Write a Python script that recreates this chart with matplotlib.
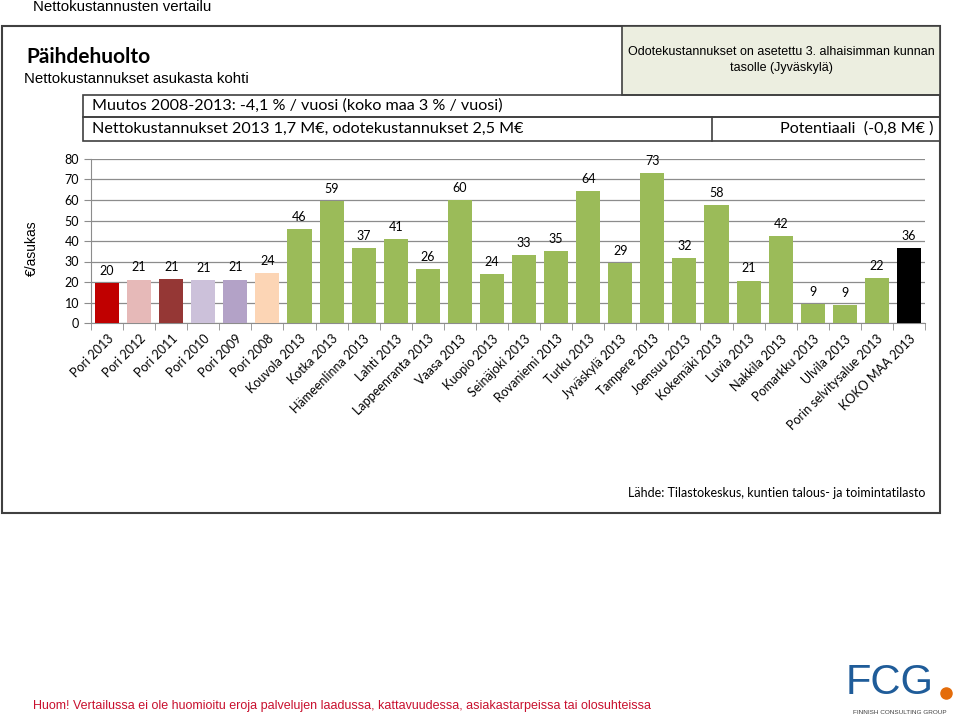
import matplotlib
matplotlib.use("Agg")
import matplotlib.pyplot as plt
from matplotlib.patches import Rectangle

categories = ["Pori 2013", "Pori 2012", "Pori 2011", "Pori 2010", "Pori 2009", "Pori 2008",
              "Kouvola 2013", "Kotka 2013", "Hämeenlinna 2013", "Lahti 2013",
              "Lappeenranta 2013", "Vaasa 2013", "Kuopio 2013", "Seinäjoki 2013",
              "Rovaniemi 2013", "Turku 2013", "Jyväskylä 2013", "Tampere 2013",
              "Joensuu 2013", "Kokemäki 2013", "Luvia 2013", "Nakkila 2013",
              "Pomarkku 2013", "Ulvila 2013", "Porin selvitysalue 2013", "KOKO MAA 2013"]
values = [19.6, 21.2, 21.4, 21.1, 21.2, 24.5, 46, 59.5, 36.7, 40.8, 26.3, 60,
          23.8, 33.3, 35, 64.3, 29.3, 73, 31.8, 57.7, 20.7, 42.2, 9.4, 8.9, 22, 36.4]
labels = ["20", "21", "21", "21", "21", "24", "46", "59", "37", "41", "26", "60",
          "24", "33", "35", "64", "29", "73", "32", "58", "21", "42", "9", "9", "22", "36"]
green = "#9BBB59"
colors = ["#C00000", "#E6B9B8", "#953735", "#CCC1DA", "#B3A2C7", "#FCD5B5"] + \
         [green] * 19 + ["#000000"]

CAL = ["Lato", "DejaVu Sans"]
ARI = ["Liberation Sans", "DejaVu Sans"]

fig = plt.figure(figsize=(9.6, 7.2), dpi=100)

# overlay in pixel coordinates for boxes and texts
ov = fig.add_axes([0, 0, 1, 1])
ov.set_xlim(0, 960)
ov.set_ylim(720, 0)
ov.axis("off")

def box(x0, y0, x1, y1, fc="none", lw=1.2):
    ov.add_patch(Rectangle((x0, y0), x1 - x0, y1 - y0, fc=fc, ec="#404040", lw=lw))

box(2, 26, 940, 513, lw=1.5)
box(622, 26, 940, 95, fc="#ECEEE0")
box(83, 95, 940, 117)
box(83, 117, 940, 141)
ov.plot([712, 712], [117, 141], color="#404040", lw=1.2)

ov.text(33, 7, "Nettokustannusten vertailu", fontsize=10.8, family=ARI, va="center")
ov.text(26, 57, "Päihdehuolto", fontsize=15, weight="bold", family=CAL, va="center")
ov.text(24, 79, "Nettokustannukset asukasta kohti", fontsize=10.8, family=ARI, va="center")
ov.text(781, 52, "Odotekustannukset on asetettu 3. alhaisimman kunnan", fontsize=9,
        family=ARI, ha="center", va="center")
ov.text(781, 68, "tasolle (Jyväskylä)", fontsize=9, family=ARI, ha="center", va="center")
ov.text(92, 106, "Muutos 2008-2013: -4,1 % / vuosi (koko maa 3 % / vuosi)", fontsize=11.6,
        family=CAL, va="center")
ov.text(92, 129, "Nettokustannukset 2013 1,7 M€, odotekustannukset 2,5 M€", fontsize=11.6,
        family=CAL, va="center")
ov.text(934, 129, "Potentiaali  (-0,8 M€ )", fontsize=11.6, family=CAL, ha="right",
        va="center")
ov.text(925, 493, "Lähde: Tilastokeskus, kuntien talous- ja toimintatilasto", fontsize=9,
        family=CAL, ha="right", va="center")
ov.text(33, 706, "Huom! Vertailussa ei ole huomioitu eroja palvelujen laadussa, kattavuudessa, "
        "asiakastarpeissa tai olosuhteissa", fontsize=9, family=ARI, color="#C8102E",
        va="center")
ov.text(32, 248, "€/asukas", fontsize=10, family=ARI, rotation=90, ha="center", va="center")

# FCG logo as text
ov.text(846, 683, "FCG", fontsize=30, family=ARI, color="#1F5C99", va="center")
ov.plot([946], [693], "o", color="#E46C0A", ms=8)
ov.text(900, 712, "FINNISH CONSULTING GROUP", fontsize=4.6, family=ARI, color="#404040",
        ha="center", va="center")

# chart
ax = fig.add_axes([91 / 960, 1 - 323 / 720, (925 - 91) / 960, (323 - 159) / 720])
ax.patch.set_alpha(0)
x = list(range(len(categories)))
ax.bar(x, values, width=0.75, color=colors, zorder=3)
for xi, v, lab in zip(x, values, labels):
    ax.text(xi, v + 3, lab, ha="center", va="bottom", fontsize=9, family=CAL, zorder=4)

ax.set_xlim(-0.5, len(categories) - 0.5)
ax.set_ylim(0, 80)
ax.set_yticks(range(0, 81, 10))
ax.yaxis.grid(True, color="#8C8C8C", lw=0.9, zorder=0)
ax.set_xticks(x)
ax.set_xticklabels(categories, rotation=45, ha="right", rotation_mode="anchor",
                   fontsize=9, family=CAL)
ax.set_xticks([i + 0.5 for i in range(-1, len(categories))], minor=True)
ax.tick_params(axis="x", which="major", length=0, pad=7)
ax.tick_params(axis="x", which="minor", length=5, color="#8C8C8C")
ax.tick_params(axis="y", length=5, color="#8C8C8C", labelsize=9)
for t in ax.get_yticklabels():
    t.set_family(CAL)
for s in ["top", "right"]:
    ax.spines[s].set_visible(False)
ax.spines["left"].set_color("#8C8C8C")
ax.spines["bottom"].set_color("#8C8C8C")

fig.savefig("out.png", dpi=100)
